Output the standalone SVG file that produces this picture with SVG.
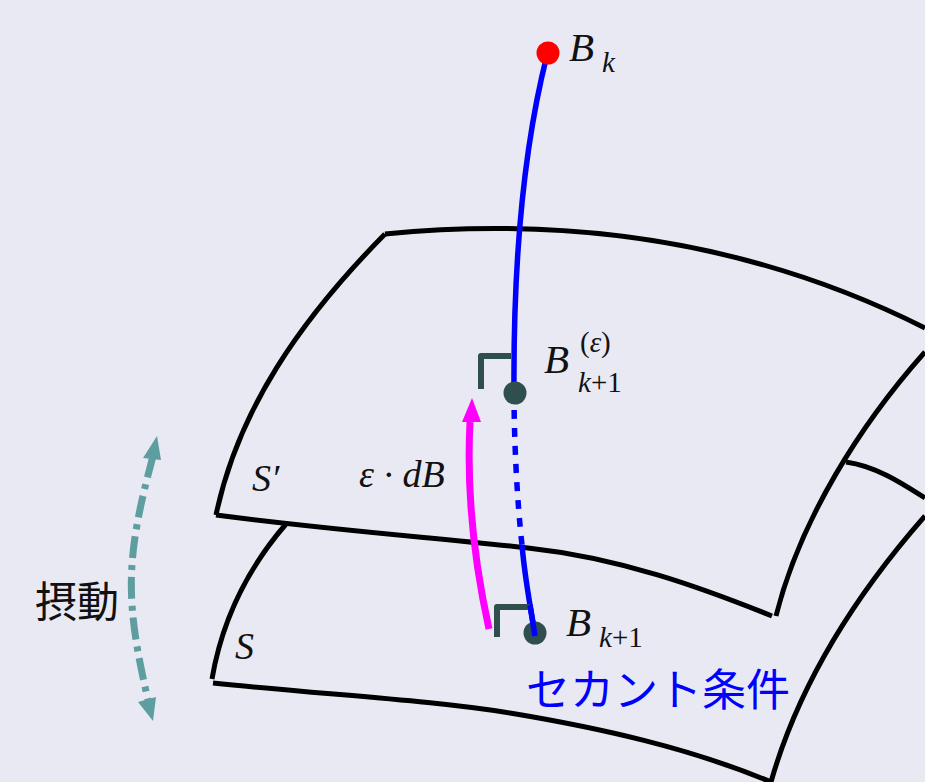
<svg xmlns="http://www.w3.org/2000/svg" width="925" height="782" viewBox="0 0 925 782">
<style>
.s{fill:none;stroke:#000;stroke-width:5}
.b{fill:none;stroke:#00f;stroke-width:5.5}
.r{fill:none;stroke:#2f4f4f;stroke-width:6;stroke-linejoin:round}
.d{fill:#2f4f4f}
.m{font-family:"Liberation Serif",serif;font-style:italic;fill:#111}
.n{font-family:"Liberation Serif",serif;fill:#111}
.j{font-family:"Noto Sans CJK JP",sans-serif}
</style>
<defs>
<marker id="mg" markerUnits="userSpaceOnUse" markerWidth="20" markerHeight="26" refX="10" refY="24" orient="auto"><path d="M0,24 L10,0 L20,24 Z" fill="#f0f"/></marker>
</defs>
<rect width="925" height="782" fill="#e9e9f3"/>
<g id="surface-s">
<path class="s" d="M212,679 C222,620 248,568 286,524"/>
<path class="s" d="M213,683 C330,695 430,700 510,713 C600,728 690,748 771,782"/>
<path class="s" d="M771,782 C800,680 860,590 925,516"/>
<path class="s" d="M846,462 C875,466 900,482 925,498"/>
</g>
<g id="surface-sprime">
<path class="s" d="M216,515 C238,410 300,320 385,234"/>
<path class="s" d="M385,234 C580,215 760,245 925,328"/>
<path class="s" d="M216,515 C340,531 440,538 528,548 C620,558 700,587 772,616"/>
<path class="s" d="M776,616 C800,520 860,425 925,352"/>
</g>
<g id="connectors">
<path class="b" d="M547,55 C528,130 513,240 514,392"/>
<path class="b" d="M514,392 C514,440 517,500 522,545" stroke-dasharray="9 9"/>
<path class="b" d="M522,545 C525,580 530,605 535,634"/>
<path d="M489,629 C476,570 466,500 470,422" fill="none" stroke="#f0f" stroke-width="7"/>
<path d="M472,398 L462,422 L481,422 Z" fill="#f0f"/>
<path d="M153,456 C125,560 125,600 148,700" fill="none" stroke="#5f9ea0" stroke-width="7" stroke-dasharray="22 7 5 7"/>
<path d="M157,436 L143,458 L161,460 Z" fill="#5f9ea0"/>
<path d="M153,721 L138,702 L156,697 Z" fill="#5f9ea0"/>
</g>
<g id="node-bk">
<circle cx="548" cy="53" r="11.500" fill="#f00"/>
<text class="m" x="569" y="61" font-size="41">B</text><text class="m" x="602" y="72" font-size="29">k</text>
</g>
<g id="node-bk1e">
<path class="r" d="M481,389 V356 H511"/>
<circle class="d" cx="515" cy="393" r="11.500"/>
<text class="m" x="544" y="373" font-size="41">B</text>
<text class="n" x="580" y="352" font-size="29">(<tspan font-style="italic">ε</tspan>)</text>
<text class="m" x="578" y="392" font-size="29">k<tspan font-style="normal">+1</tspan></text>
</g>
<g id="node-bk1">
<path class="r" d="M497,637 V607 H530"/>
<circle class="d" cx="535" cy="633" r="11.500"/>
<path class="b" d="M530,605 L535,636"/>
<text class="m" x="566" y="636" font-size="41">B</text>
<text class="m" x="599" y="647" font-size="29">k<tspan font-style="normal">+1</tspan></text>
</g>
<g id="labels">
<text class="m" x="359" y="487" font-size="38">ε · dB</text>
<text class="m" x="252" y="491" font-size="38">S′</text>
<text class="m" x="235" y="659" font-size="38">S</text>
<text class="j" x="35" y="617" font-size="42" fill="#111">摂動</text>
<text class="j" x="526" y="706" font-size="44" fill="#00f">セカント条件</text>
</g>
</svg>
